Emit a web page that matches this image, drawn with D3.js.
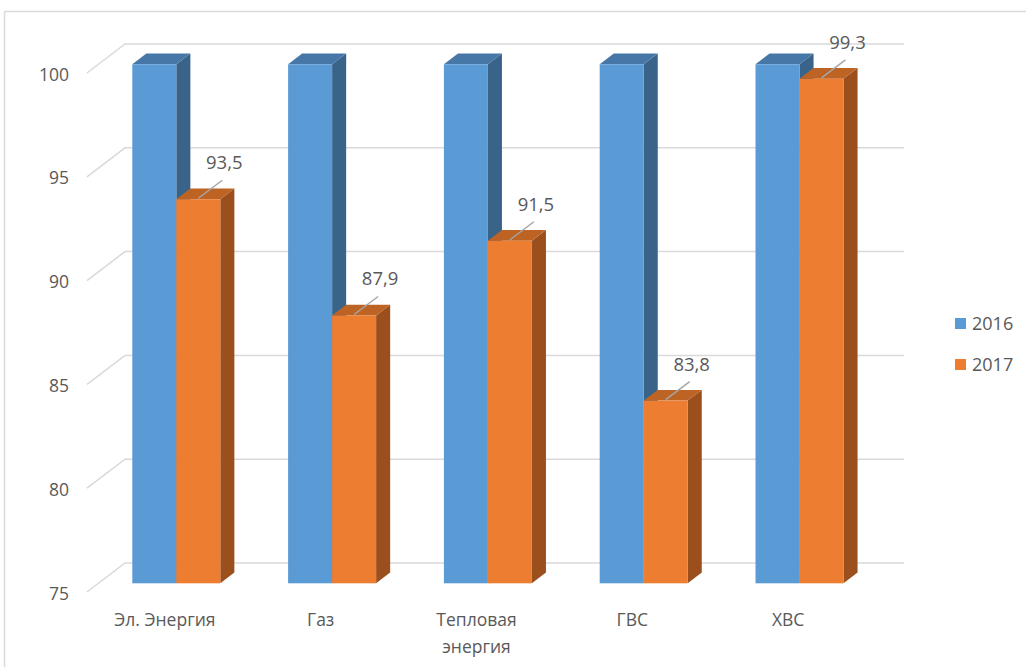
<!DOCTYPE html>
<html><head><meta charset="utf-8">
<script src="https://cdn.jsdelivr.net/npm/d3@7"></script>
<style>html,body{margin:0;padding:0;background:#fff;}svg{display:block;}</style>
</head><body>
<svg id="chart" width="1026" height="667"></svg>
<script>
const categories = ["Эл. Энергия", "Газ", "Тепловая энергия", "ГВС", "ХВС"];
const categoryLines = [["Эл. Энергия"], ["Газ"], ["Тепловая", "энергия"], ["ГВС"], ["ХВС"]];
const seriesNames = ["2016", "2017"];
const values2016 = [100, 100, 100, 100, 100];
const values2017 = [93.5, 87.9, 91.5, 83.8, 99.3];
const dataLabels2017 = ["93,5", "87,9", "91,5", "83,8", "99,3"];
const yTicks = [75, 80, 85, 90, 95, 100];

const series = [values2016, values2017];
const colors = [
  {front: "#5B9BD5", top: "#4677A6", side: "#3A6389"},
  {front: "#ED7D31", top: "#BD6324", side: "#9B4F1D"}
];

const svg = d3.select("#chart");
const FONT = "'Open Sans', sans-serif";
const TXT = "#595959";
const GRID = "#D9D9D9";

// chart frame border (top & left visible)
svg.append("line").attr("x1", 4.5).attr("y1", 11.5).attr("x2", 1026).attr("y2", 11.5).attr("stroke", "#D9D9D9").attr("stroke-width", 1.5);
svg.append("line").attr("x1", 4.5).attr("y1", 11.5).attr("x2", 4.5).attr("y2", 667).attr("stroke", "#D9D9D9").attr("stroke-width", 1.5);

// oblique projection parameters
const x0 = 87, plotW = 779;
const DX = 38, DY = -29;           // full floor depth offset
const tFront = 0.30, tBack = 0.67; // bar depth span

const y = d3.scaleLinear().domain([75, 100]).range([592, 73]);
const xBand = d3.scaleBand().domain(categories).range([0, plotW]).padding(0);
const bw = xBand.bandwidth() * 0.2824;

function P(x, v, t) { return [x0 + x + DX * t, y(v) + DY * t]; }

// back wall gridlines and left wall diagonals
const grid = svg.append("g");
yTicks.forEach(v => {
  const a = P(0, v, 0), b = P(0, v, 1), c = P(plotW, v, 1);
  grid.append("polyline")
    .attr("points", [a, b, c].map(p => p.join(",")).join(" "))
    .attr("fill", "none").attr("stroke", GRID).attr("stroke-width", 1.5);
});

// y axis labels via d3 axis
const axisG = svg.append("g").attr("transform", `translate(${x0 - 18},0)`)
  .call(d3.axisLeft(y).tickValues(yTicks).tickSize(0).tickPadding(0));
axisG.select(".domain").remove();
axisG.selectAll("text").attr("font-family", FONT).attr("font-size", 17.5).attr("fill", TXT).attr("dy", "0.35em")
  .attr("transform", "translate(0,1)");

// bars
const bars = svg.append("g");
categories.forEach((cat, i) => {
  const start = xBand(cat) + (xBand.bandwidth() - 2 * bw) / 2;
  series.forEach((vals, s) => {
    const v = vals[i];
    const xl = start + s * bw, xr = xl + bw;
    const c = colors[s];
    const poly = pts => pts.map(p => p.join(",")).join(" ");
    bars.append("polygon").attr("points", poly([P(xr, v, tFront), P(xr, v, tBack), P(xr, 75, tBack), P(xr, 75, tFront)])).attr("fill", c.side);
    bars.append("polygon").attr("points", poly([P(xl, v, tFront), P(xr, v, tFront), P(xr, v, tBack), P(xl, v, tBack)])).attr("fill", c.top);
    const f1 = P(xl, v, tFront), f2 = P(xr, 75, tFront);
    bars.append("rect").attr("x", f1[0]).attr("y", f1[1]).attr("width", f2[0] - f1[0]).attr("height", f2[1] - f1[1]).attr("fill", c.front);
  });
});

// data labels for 2017
const lab = svg.append("g");
categories.forEach((cat, i) => {
  const start = xBand(cat) + (xBand.bandwidth() - 2 * bw) / 2;
  const xc = start + bw + bw / 2;
  const p = P(xc, values2017[i], tFront);
  lab.append("line").attr("x1", p[0]).attr("y1", p[1] - 1).attr("x2", p[0] + 24).attr("y2", p[1] - 19)
    .attr("stroke", "#A6A6A6").attr("stroke-width", 1.5);
  lab.append("text").attr("x", p[0] + 26).attr("y", p[1] - 30).attr("text-anchor", "middle")
    .attr("font-family", FONT).attr("font-size", 18.5).attr("fill", TXT).text(dataLabels2017[i]);
});

// category labels
const catG = svg.append("g");
categories.forEach((cat, i) => {
  const cx = x0 + xBand(cat) + xBand.bandwidth() / 2;
  const t = catG.append("text").attr("x", cx).attr("y", 626).attr("text-anchor", "middle")
    .attr("font-family", FONT).attr("font-size", 17.5).attr("fill", TXT);
  categoryLines[i].forEach((ln, k) => {
    t.append("tspan").attr("x", cx).attr("y", 626 + k * 27).text(ln);
  });
});

// legend
const leg = svg.append("g");
seriesNames.forEach((name, s) => {
  const yy = 318 + s * 41;
  leg.append("rect").attr("x", 955).attr("y", yy).attr("width", 11).attr("height", 11).attr("fill", colors[s].front);
  leg.append("text").attr("x", 972).attr("y", yy + 12).attr("font-family", FONT).attr("font-size", 18).attr("fill", TXT).text(name);
});
</script>
</body></html>
